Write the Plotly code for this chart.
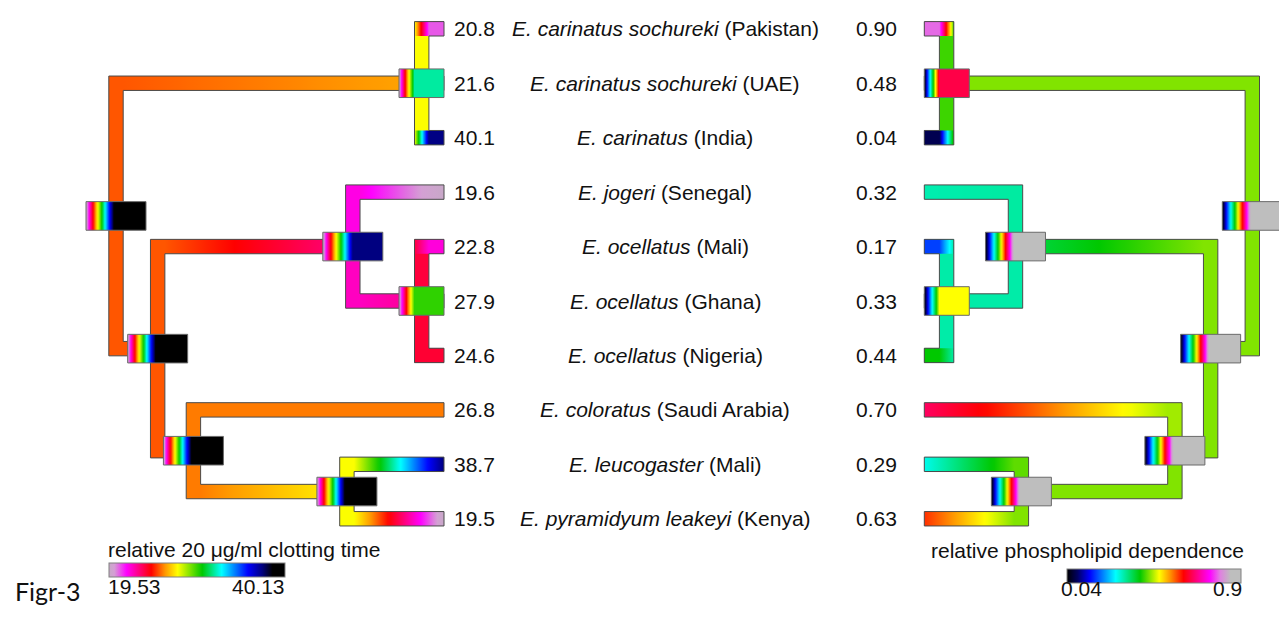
import plotly.graph_objects as go

# ------------------------------------------------------------------ data
species = ["E. carinatus sochureki", "E. carinatus sochureki", "E. carinatus",
           "E. jogeri", "E. ocellatus", "E. ocellatus", "E. ocellatus",
           "E. coloratus", "E. leucogaster", "E. pyramidyum leakeyi"]
locality = ["Pakistan", "UAE", "India", "Senegal", "Mali", "Ghana", "Nigeria",
            "Saudi Arabia", "Mali", "Kenya"]
clotting_time = [20.8, 21.6, 40.1, 19.6, 22.8, 27.9, 24.6, 26.8, 38.7, 19.5]
phospholipid = [0.90, 0.48, 0.04, 0.32, 0.17, 0.33, 0.44, 0.70, 0.29, 0.63]

clot_range = [19.53, 40.13]
phos_range = [0.04, 0.90]

# tree topology (same for both mirrored trees); depth: root = 1, tips = 0
node_names = ["R", "A", "B", "C", "E", "D", "F"]
node_depth = [1.000, 0.068, 0.873, 0.278, 0.068, 0.764, 0.296]
edge_parent = ["R", "R", "A", "A", "A", "B", "B", "C", "C", "E", "E", "E", "D", "D", "F", "F"]
edge_child = ["A", "B", 0, 1, 2, "C", "D", 3, "E", 4, 5, 6, 7, "F", 8, 9]

# reconstructed trait value at the parent end / child end of every branch
clot_branch_start = [25.4, 25.4, 27.6, 27.6, 27.6, 25.4, 25.4, 21.9, 22.3, 23.8, 23.8, 23.9, 25.8, 25.8, 27.6, 27.6]
clot_branch_end = [26.3, 25.4, 20.8, 21.6, 37.4, 22.9, 25.4, 19.5, 22.9, 22.0, 27.9, 23.9, 25.8, 27.5, 37.5, 19.5]
phos_branch_start = [0.449, 0.449, 0.424, 0.424, 0.424, 0.449, 0.449, 0.325, 0.322, 0.322, 0.322, 0.322, 0.461, 0.449, 0.436, 0.449]
phos_branch_end = [0.449, 0.449, 0.788, 0.480, 0.083, 0.363, 0.449, 0.318, 0.322, 0.184, 0.330, 0.401, 0.665, 0.449, 0.290, 0.595]

# value shown in each node box (order of node_names)
clot_node_value = [40.13, 31.87, 40.13, 37.45, 29.92, 40.13, 40.13]
phos_node_value = [0.90, 0.652, 0.90, 0.90, 0.496, 0.90, 0.90]

# ------------------------------------------------------------------ styles / layout constants
CLOT_CMAP = [[0.00, "#C8A8C8"], [0.03, "#D4A0D4"], [0.10, "#FF00FF"], [0.24, "#FF0000"],
             [0.32, "#FF9900"], [0.39, "#FFFF00"], [0.53, "#00C800"], [0.64, "#00FFFF"],
             [0.79, "#0000FF"], [0.87, "#000080"], [0.93, "#000000"], [1.00, "#000000"]]
PHOS_CMAP = [[0.00, "#000000"], [0.06, "#000060"], [0.13, "#0000FF"], [0.28, "#00FFFF"],
             [0.42, "#00C800"], [0.53, "#FFFF00"], [0.59, "#FF9900"], [0.67, "#FF0000"],
             [0.82, "#FF00FF"], [0.88, "#E080E0"], [0.94, "#BEBEBE"], [1.00, "#BEBEBE"]]

W, H = 1279, 617
ROW0_PX, ROW_PX = 28.8, 54.44
DEPTH_PX = 328.0
LEFT_TIP_PX, RIGHT_TIP_PX = 444.0, 924.3
BR_HALF_PX = 7.2
BOX_HALF_W_PX, BOX_HALF_H_PX, CLIP_BOX_W_PX = 30.0, 14.3, 45.0
OUTLINE = "#4a4a4a"
BOX_OUTLINE = "#6a6a6a"
FONT = "Liberation Sans, Arial, sans-serif"
FS = 21

hx = BR_HALF_PX / DEPTH_PX
hy = BR_HALF_PX / ROW_PX


def hex_rgb(h):
    h = h.lstrip("#")
    return tuple(int(h[i:i + 2], 16) for i in (0, 2, 4))


def cmap_color(cmap, f):
    f = min(max(f, 0.0), 1.0)
    for (p0, c0), (p1, c1) in zip(cmap[:-1], cmap[1:]):
        if f <= p1:
            t = 0.0 if p1 == p0 else (f - p0) / (p1 - p0)
            a, b = hex_rgb(c0), hex_rgb(c1)
            return "rgb(%d,%d,%d)" % tuple(round(a[i] + (b[i] - a[i]) * t) for i in range(3))
    return "rgb(%d,%d,%d)" % hex_rgb(cmap[-1][1])


def frac(v, rng):
    return (v - rng[0]) / (rng[1] - rng[0])


def branch_scale(cmap, rng, v_left, v_right, n=28):
    f0, f1 = frac(v_left, rng), frac(v_right, rng)
    return [[k / (n - 1), cmap_color(cmap, f0 + (f1 - f0) * k / (n - 1))] for k in range(n)]


def box_scale(cmap, f, g, n=28):
    cs = [[g * k / (n - 1), cmap_color(cmap, f * k / (n - 1))] for k in range(n)]
    cs.append([1.0, cmap_color(cmap, f)])
    return cs


depth_of = dict(zip(node_names, node_depth))
children = {n: [] for n in node_names}
for p, c in zip(edge_parent, edge_child):
    children[p].append(c)


def ypos(c):
    if isinstance(c, int):
        return float(c)
    ys = [ypos(k) for k in children[c]]
    return (min(ys) + max(ys)) / 2.0


def depth(c):
    return 0.0 if isinstance(c, int) else depth_of[c]


fig = go.Figure()


def poly(xs, ys, xaxis, cs=None, start=None, stop=None, line_color=OUTLINE, line_width=1, fill=True):
    kw = {}
    if fill:
        fg = dict(type="horizontal", colorscale=cs)
        if start is not None:
            fg["start"], fg["stop"] = start, stop
        kw = dict(fill="toself", fillgradient=fg)
    line = dict(color=line_color, width=line_width) if line_width > 0 else dict(width=0)
    fig.add_trace(go.Scatter(x=xs, y=ys, xaxis=xaxis, yaxis="y", mode="lines", line=line,
                             hoverinfo="skip", showlegend=False, **kw))


def add_tree(side, xaxis, cmap, rng, b_start, b_end, node_vals):
    # side = -1 : left tree (axis value = -depth), side = +1 : right tree (axis value = depth)
    for p, c, v0, v1 in zip(edge_parent, edge_child, b_start, b_end):
        xp, xc = side * depth(p), side * depth(c)
        yp, yc = ypos(p), ypos(c)
        outer_x, inner_x = xp + side * hx, xp - side * hx
        if abs(yc - yp) < 1e-9:
            xs = [outer_x, outer_x, xc, xc, outer_x]
            ys = [yc - hy, yc + hy, yc + hy, yc - hy, yc - hy]
        else:
            s = 1.0 if yc > yp else -1.0
            oy, iy = yc + s * hy, yc - s * hy
            xs = [outer_x, outer_x, xc, xc, inner_x, inner_x, outer_x]
            ys = [yp, oy, oy, iy, iy, yp, yp]
        if side < 0:
            start, stop, cs = inner_x, xc, branch_scale(cmap, rng, v0, v1)
        else:
            start, stop, cs = xc, inner_x, branch_scale(cmap, rng, v1, v0)
        short_tip = isinstance(c, int) and len(children[p]) > 2
        if not short_tip:
            poly(xs, ys, xaxis, cs, start, stop)
        else:
            # tip of a polytomy: the tip bar is laid over the connector, colour change
            # happens across the width of the connector
            poly(xs, ys, xaxis, cs, start, stop, line_width=0)
            if side < 0:
                tcs, t0, t1 = branch_scale(cmap, rng, v0, v1), outer_x, inner_x
            else:
                tcs, t0, t1 = branch_scale(cmap, rng, v1, v0), inner_x, outer_x
            poly([outer_x, xc, xc, outer_x, outer_x], [yc - hy, yc - hy, yc + hy, yc + hy, yc - hy],
                 xaxis, tcs, min(t0, t1), max(t0, t1), line_width=0)
            poly(xs, ys, xaxis, fill=False)

    bw = BOX_HALF_W_PX / DEPTH_PX
    cw = CLIP_BOX_W_PX / DEPTH_PX
    bh = BOX_HALF_H_PX / ROW_PX
    for n, v in zip(node_names, node_vals):
        xc, yc = side * depth_of[n], ypos(n)
        clipped = depth_of[n] < bw
        if not clipped:
            x0, x1, gend = xc - bw, xc + bw, xc
        elif side < 0:
            x0, x1, gend = -cw, 0.0, xc - hx
        else:
            x0, x1, gend = 0.0, cw, xc - hx
        g = (gend - x0) / (x1 - x0)
        poly([x0, x1, x1, x0, x0], [yc - bh, yc - bh, yc + bh, yc + bh, yc - bh], xaxis,
             box_scale(cmap, frac(v, rng), g), line_color=BOX_OUTLINE)


add_tree(-1, "x", CLOT_CMAP, clot_range, clot_branch_start, clot_branch_end, clot_node_value)
add_tree(+1, "x2", PHOS_CMAP, phos_range, phos_branch_start, phos_branch_end, phos_node_value)

# colour bars
for cmap, rng, x0px, x1px, ytop in [(CLOT_CMAP, clot_range, 108.5, 284.0, 562.5),
                                    (PHOS_CMAP, phos_range, 1067.0, 1240.5, 568.5)]:
    fig.add_trace(go.Scatter(
        x=[None], y=[None], mode="markers", showlegend=False, hoverinfo="skip",
        marker=dict(color=[rng[0]], cmin=rng[0], cmax=rng[1], colorscale=cmap, showscale=True,
                    colorbar=dict(orientation="h", x=x0px / W, xanchor="left",
                                  y=1 - ytop / H, yanchor="top", len=x1px - x0px, lenmode="pixels",
                                  thickness=14, thicknessmode="pixels", xpad=0, ypad=0,
                                  outlinecolor="#808080", outlinewidth=1, borderwidth=0,
                                  showticklabels=False, ticks=""))))

ann = []
for i in range(len(species)):
    ann.append(dict(x=452 / W, xref="paper", y=i, yref="y", xanchor="left", yanchor="middle",
                    text="%.1f" % clotting_time[i], showarrow=False))
    ann.append(dict(x=665 / W, xref="paper", y=i, yref="y", xanchor="center", yanchor="middle",
                    text="<i>%s</i> (%s)" % (species[i], locality[i]), showarrow=False))
    ann.append(dict(x=854 / W, xref="paper", y=i, yref="y", xanchor="left", yanchor="middle",
                    text="%.2f" % phospholipid[i], showarrow=False))

ann += [
    dict(x=106 / W, y=1 - 549 / H, xanchor="left", yanchor="middle",
         text="relative 20 μg/ml clotting time"),
    dict(x=106 / W, y=1 - 586 / H, xanchor="left", yanchor="middle", text="%.2f" % clot_range[0]),
    dict(x=287 / W, y=1 - 586 / H, xanchor="right", yanchor="middle", text="%.2f" % clot_range[1]),
    dict(x=929 / W, y=1 - 550 / H, xanchor="left", yanchor="middle",
         text="relative phospholipid dependence"),
    dict(x=1059 / W, y=1 - 588 / H, xanchor="left", yanchor="middle", text="%.2f" % phos_range[0]),
    dict(x=1244 / W, y=1 - 588 / H, xanchor="right", yanchor="middle", text="%g" % phos_range[1]),
    dict(x=13 / W, y=1 - 591 / H, xanchor="left", yanchor="middle", text="Figr-3",
         font=dict(family="Lato, Open Sans, sans-serif", size=25, color="#111111")),
]
for a in ann:
    a.setdefault("xref", "paper")
    a.setdefault("yref", "paper")
    a.setdefault("showarrow", False)
    a.setdefault("font", dict(family=FONT, size=FS, color="#111111"))

fig.update_layout(
    width=W, height=H, margin=dict(l=0, r=0, t=0, b=0),
    paper_bgcolor="white", plot_bgcolor="white", showlegend=False,
    xaxis=dict(range=[-LEFT_TIP_PX / DEPTH_PX, (W - LEFT_TIP_PX) / DEPTH_PX],
               visible=False, fixedrange=True),
    xaxis2=dict(range=[-RIGHT_TIP_PX / DEPTH_PX, (W - RIGHT_TIP_PX) / DEPTH_PX],
                overlaying="x", visible=False, fixedrange=True),
    yaxis=dict(range=[(H - ROW0_PX) / ROW_PX, -ROW0_PX / ROW_PX], visible=False, fixedrange=True),
    annotations=ann,
)

fig.write_html("out.html", config={"displayModeBar": False},
               post_script="document.body.style.margin='0px';")
